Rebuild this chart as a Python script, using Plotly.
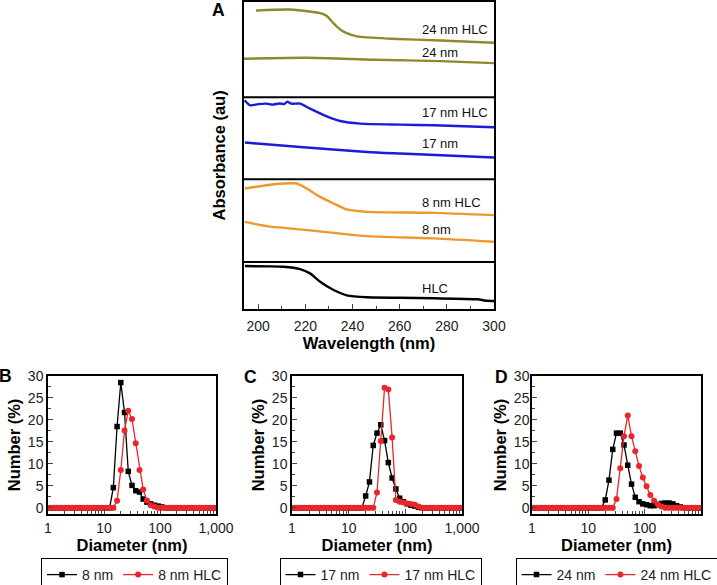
import plotly.graph_objects as go

W, H = 717, 585

# ---------------- Panel A data (UV-vis spectra, stacked, arbitrary units) ----------------
wl_hlc = [194.4, 205, 210.7, 217.8, 222, 226.3, 232, 237.6, 246.1, 260, 274.5, 292.9, 297.1, 300]
abs_hlc = [4.33, 4.30, 4.26, 4.03, 3.6, 2.76, 1.93, 1.4, 1.2, 1.15, 1.1, 1.0, 0.85, 0.83]

wl_8 = [194.4, 203.6, 217.8, 232, 246.1, 274.5, 300]
abs_8 = [8.76, 8.33, 8.0, 7.66, 7.33, 7.1, 6.76]

wl_8hlc = [194.4, 203.6, 210.7, 216.4, 220.6, 226.3, 232, 237.6, 246.1, 274.5, 300]
abs_8hlc = [12.1, 12.43, 12.6, 12.6, 12.1, 11.26, 10.6, 10.0, 9.76, 9.66, 9.43]

wl_17 = [194.4, 217.8, 246.1, 260.3, 300]
abs_17 = [16.7, 16.26, 15.76, 15.6, 15.2]

wl_17hlc = [194.2, 196.6, 200, 203.6, 206, 209, 211, 212.4, 214, 217.8, 222, 229.1, 234.8, 243.3, 260.3, 274.5, 300]
abs_17hlc = [20.93, 20.43, 20.55, 20.6, 20.5, 20.62, 20.55, 20.8, 20.6, 20.6, 20.1, 19.33, 18.86, 18.6, 18.5, 18.43, 18.23]

wl_24 = [194.0, 220.6, 249, 277.3, 300]
abs_24 = [25.1, 25.2, 25.0, 24.86, 24.66]

wl_24hlc = [199.1, 213.5, 226.3, 229.1, 232, 234.8, 237.6, 241.9, 256, 277.3, 300]
abs_24hlc = [29.93, 30.03, 29.66, 29.38, 28.63, 28.03, 27.66, 27.33, 27.1, 26.93, 26.7]

spectra_labels = ["24 nm HLC", "24 nm", "17 nm HLC", "17 nm", "8 nm HLC", "8 nm", "HLC"]
spectra_label_y = [28.03, 25.76, 19.76, 16.63, 10.66, 8.03, 2.1]
panel_separators = [21.23, 13.03, 4.73]

# ---------------- Panels B-D data (DLS number distributions) ----------------
diam_nm = [0.926, 1.080, 1.259, 1.468, 1.711, 1.995, 2.326, 2.712, 3.162, 3.687,
           4.299, 5.012, 5.843, 6.813, 7.943, 9.261, 10.80, 12.59, 14.68, 17.11,
           19.95, 23.26, 27.12, 31.62, 36.87, 42.99, 50.12, 58.43, 68.13, 79.43,
           92.61, 108.0, 125.9, 146.8, 171.1, 199.5, 232.6, 271.2, 316.2, 368.7,
           429.9, 501.2, 584.3, 681.3, 794.3, 926.1, 1080.0]

num_8 = [0] * 18 + [4.6, 18.5, 28.5, 21.7, 8.3, 5.1, 3.9, 3.6, 2.0, 1.3, 0.9, 0.6, 0.4, 0.2] + [0] * 15
num_8hlc = [0] * 19 + [1.6, 8.6, 17.6, 22.1, 20.2, 14.7, 8.6, 4.2, 1.7, 0.6, 0.3] + [0] * 17
num_17 = [0] * 20 + [2.7, 5.9, 14.2, 17.0, 18.9, 15.3, 10.3, 6.8, 4.3, 2.2, 1.4, 0.9, 0.6, 0.4, 0.1] + [0] * 12
num_17hlc = [0] * 23 + [3.5, 15.2, 27.3, 26.9, 16.0, 1.8, 1.4, 1.2, 1.0, 0.9, 0.7, 0.3] + [0] * 12
num_24 = [0] * 20 + [1.8, 6.3, 13.3, 17.0, 17.0, 14.3, 9.7, 5.4, 2.4, 1.4, 0.9, 0.7, 0.5, 0.5, 0.7,
                     1.0, 1.1, 1.1, 0.9, 0.5, 0.2] + [0] * 6
num_24hlc = [0] * 23 + [2.0, 9.0, 16.3, 21.0, 16.3, 12.9, 9.5, 6.9, 4.9, 2.9, 1.6, 0.8, 0.3] + [0] * 11

dls_panels = [
    ("8 nm", "8 nm HLC", num_8, num_8hlc),
    ("17 nm", "17 nm HLC", num_17, num_17hlc),
    ("24 nm", "24 nm HLC", num_24, num_24hlc),
]

x_tick_vals = [1, 10, 100, 1000]
x_tick_text = ["1", "10", "100", "1,000"]

# ---------------- styling ----------------
FONT = "Arial, Liberation Sans, sans-serif"
C_24 = "#8e8a2c"
C_17 = "#1c1cd8"
C_8 = "#f0962e"
C_HLC = "#000000"
C_RED = "#e8262b"


def fx(px):
    return px / W


def fy(py):
    return 1 - py / H


fig = go.Figure()

spectra = [
    (wl_24hlc, abs_24hlc, C_24), (wl_24, abs_24, C_24),
    (wl_17hlc, abs_17hlc, C_17), (wl_17, abs_17, C_17),
    (wl_8hlc, abs_8hlc, C_8), (wl_8, abs_8, C_8),
    (wl_hlc, abs_hlc, C_HLC),
]
for xs, ys, col in spectra:
    fig.add_trace(go.Scatter(x=xs, y=ys, mode="lines", line=dict(color=col, width=2.4, shape="spline", smoothing=0.6),
                             showlegend=False, xaxis="x", yaxis="y", hoverinfo="skip"))

legend_names = ["legend", "legend2", "legend3"]
for i, (n1, n2, v1, v2) in enumerate(dls_panels):
    ax = str(i + 2)
    fig.add_trace(go.Scatter(x=diam_nm, y=v1, name=n1, mode="lines+markers",
                             line=dict(color="black", width=1.3),
                             marker=dict(symbol="square", size=5.5, color="black"),
                             xaxis="x" + ax, yaxis="y" + ax, legend=legend_names[i]))
    fig.add_trace(go.Scatter(x=diam_nm, y=v2, name=n2, mode="lines+markers",
                             line=dict(color=C_RED, width=1.3),
                             marker=dict(symbol="circle", size=6, color=C_RED),
                             xaxis="x" + ax, yaxis="y" + ax, legend=legend_names[i]))

tickfont = dict(family=FONT, size=14, color="#222")
titlefont = dict(family=FONT, size=16.5, color="black", weight="bold")

layout = dict(
    width=W, height=H, margin=dict(l=0, r=0, t=0, b=0, autoexpand=False),
    paper_bgcolor="white", plot_bgcolor="white",
    font=dict(family=FONT, size=14, color="#222"),
    xaxis=dict(domain=[fx(244), fx(494)], range=[194, 300], anchor="y",
               tickvals=[200, 220, 240, 260, 280, 300], ticks="inside", ticklen=5, tickwidth=1,
               minor=dict(dtick=10, tick0=200, ticks="inside", ticklen=3),
               showline=True, linewidth=2, linecolor="black", mirror=True, showgrid=False, zeroline=False,
               tickfont=tickfont, automargin=False, ticklabelstandoff=3,
               title=dict(text="Wavelength (nm)", font=titlefont, standoff=2)),
    yaxis=dict(domain=[fy(309.3), fy(1.5)], range=[0, 30.83], anchor="x",
               showticklabels=False, ticks="", showline=True, linewidth=2, linecolor="black",
               mirror=True, showgrid=False, zeroline=False, automargin=False,
               title=dict(text="Absorbance (au)", font=titlefont, standoff=12)),
)

dls_x = [(48, 216), (292, 462), (532, 701)]
ylabel_standoff = [0, 0, -2]
legend_centers = [134.5, 380.5, 616.5]
for i, (x0, x1) in enumerate(dls_x):
    ax = str(i + 2)
    layout["xaxis" + ax] = dict(
        domain=[fx(x0), fx(x1)], type="log", range=[0, 3], anchor="y" + ax,
        tickvals=x_tick_vals, ticktext=x_tick_text, ticks="inside", ticklen=5,
        minor=dict(ticks="inside", ticklen=3, tickvals=[m * 10 ** d for d in range(3) for m in range(2, 10)]),
        showline=True, linewidth=1.5, linecolor="black", mirror=True, showgrid=False, zeroline=False,
        tickfont=tickfont, automargin=False,
        title=dict(text="Diameter (nm)", font=titlefont, standoff=3))
    layout["yaxis" + ax] = dict(
        domain=[fy(514), fy(376)], range=[-1.4, 30], anchor="x" + ax,
        dtick=5, tick0=0, ticks="inside", ticklen=5,
        minor=dict(dtick=2.5, tick0=0, ticks="inside", ticklen=3),
        showline=True, linewidth=1.5, linecolor="black", mirror=True, showgrid=False, zeroline=False,
        tickfont=tickfont, automargin=False, ticklabelstandoff=ylabel_standoff[i],
        title=dict(text="Number (%)", font=titlefont, standoff=3))
    layout[legend_names[i]] = dict(
        orientation="h", x=fx(legend_centers[i]), y=fy(558), xanchor="center", yanchor="top",
        bordercolor="black", borderwidth=1, bgcolor="white",
        font=dict(family=FONT, size=14, color="#222"), itemwidth=30, tracegroupgap=0)

fig.update_layout(**layout)

shapes = []
for yv in panel_separators:
    shapes.append(dict(type="line", xref="x domain", yref="y", x0=0, x1=1, y0=yv, y1=yv,
                       line=dict(color="black", width=2)))
fig.update_layout(shapes=shapes)

annotations = []
for txt, yv in zip(spectra_labels, spectra_label_y):
    annotations.append(dict(text=txt, x=268.8, y=yv, xref="x", yref="y", xanchor="left", yanchor="middle",
                            showarrow=False, font=dict(family=FONT, size=13, color="#111")))
for letter, px, py in [("A", 218, 10), ("B", 6, 376), ("C", 250, 377), ("D", 501, 377)]:
    annotations.append(dict(text=letter, x=fx(px), y=fy(py), xref="paper", yref="paper",
                            xanchor="center", yanchor="middle", showarrow=False,
                            font=dict(family=FONT, size=17.5, color="black", weight="bold")))
fig.update_layout(annotations=annotations)

# remove the browser's default 8px page margin so the figure fills the window exactly
fig.write_html("out.html", config={"displayModeBar": False},
               post_script="document.body.style.margin='0';document.body.style.overflow='hidden';")
